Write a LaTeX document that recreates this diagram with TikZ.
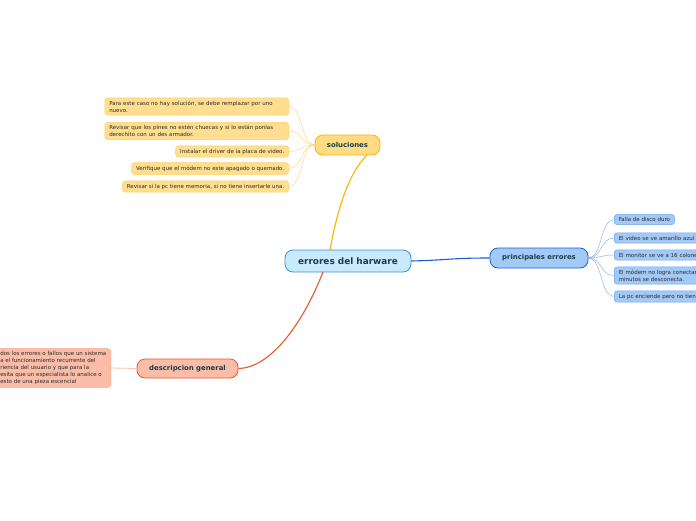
\documentclass[tikz,border=0pt]{standalone}
\usepackage{fontspec}
\setmainfont{DejaVu Sans}
\definecolor{cfill}{HTML}{C9EAFC}
\definecolor{cdraw}{HTML}{3D8FD8}
\definecolor{ttext}{HTML}{163F4A}
\definecolor{sfill}{HTML}{FFDC84}
\definecolor{sdraw}{HTML}{F7B500}
\definecolor{slfill}{HTML}{FFDF8F}
\definecolor{sldraw}{HTML}{FDD06A}
\definecolor{sline}{HTML}{FDD98A}
\definecolor{bfill}{HTML}{A3C9F7}
\definecolor{bdraw}{HTML}{1D5FD1}
\definecolor{bldraw}{HTML}{6EA5EF}
\definecolor{bline}{HTML}{8BB8F0}
\definecolor{dfill}{HTML}{FBBDA8}
\definecolor{ddraw}{HTML}{F0552A}
\definecolor{dldraw}{HTML}{F7A487}
\definecolor{dline}{HTML}{FBC6B4}
\definecolor{ltext}{HTML}{2A2A2A}
\begin{document}
\begin{tikzpicture}[x=1pt,y=-1pt,
  central/.style={draw=cdraw,fill=cfill,line width=0.8pt,rounded corners=8pt,font=\fontsize{8.9}{10}\selectfont\bfseries,text=ttext,inner sep=0pt},
  topic/.style={line width=0.8pt,rounded corners=8pt,font=\fontsize{6.9}{8}\selectfont\bfseries,text=ttext,inner sep=0pt},
  leaf/.style={line width=0.5pt,rounded corners=3pt,font=\fontsize{5.5}{6.8}\selectfont,text=ltext,align=left,inner xsep=4.5pt,inner ysep=3pt},
  sleaf/.style={leaf,fill=slfill,draw=sldraw},
  bleaf/.style={leaf,fill=bfill,draw=bldraw},
  dleaf/.style={leaf,fill=dfill,draw=dldraw}]
\useasboundingbox (0,0) rectangle (696,520);
\clip (0,0) rectangle (696,520);
\fill[white] (0,0) rectangle (696,520);

\coordinate (cN) at (330,250);
\coordinate (cS) at (323,272);
\coordinate (sB) at (367,155);

% nodes
\node[central,minimum width=126pt,minimum height=22pt] (c) at (348,261) {errores del harware};
\node[topic,draw=sdraw,fill=sfill,minimum width=65pt,minimum height=20pt] (s) at (347.5,145) {soluciones};
\node[topic,draw=bdraw,fill=bfill,minimum width=98pt,minimum height=20pt] (p) at (539,258) {principales errores};
\node[topic,draw=ddraw,fill=dfill,minimum width=101pt,minimum height=19pt] (d) at (187.5,368.5) {descripcion general};

% soluciones leaves
\node[sleaf,anchor=east,text width=175pt] (s1) at (289,106.5) {Para este caso no hay solución, se debe remplazar por uno\\nuevo.};
\node[sleaf,anchor=east,text width=175pt] (s2) at (289,131) {Revisar que los pines no estén chuecas y si lo están ponlas\\derechito con un des armador.};
\node[sleaf,anchor=east] (s3) at (289,151.5) {Instalar el driver de la placa de video.};
\node[sleaf,anchor=east] (s4) at (289,168.5) {Verifique que el módem no este apagado o quemado.};
\node[sleaf,anchor=east] (s5) at (289,186.5) {Revisar si la pc tiene memoria, si no tiene insertarle una.};

% principales leaves
\node[bleaf,anchor=west] (p1) at (614,219.5) {Falla de disco duro};
\node[bleaf,anchor=west,text width=111pt] (p2) at (614,238) {El video se ve amarillo azul};
\node[bleaf,anchor=west,text width=111pt] (p3) at (614,255) {El monitor se ve a 16 colores};
\node[bleaf,anchor=west,text width=111pt] (p4) at (614,275.5) {El módem no logra conectar\\minutos se desconecta.};
\node[bleaf,anchor=west,text width=111pt] (p5) at (614,296.5) {La pc enciende pero no tiene};

% descripcion leaf
\node[dleaf,anchor=east,minimum height=38pt] (d1) at (111,368) {dos los errores o fallos que un sistema\\a el funcionamiento recurrente del\\riencia del usuario y que para la\\esita que un especialista lo analice o\\esto de una pieza escencial};

% connectors
\draw[sdraw,line width=1.1pt] (cN) .. controls (338,205) and (350,172) .. (sB);
\draw[bdraw,line width=1.1pt] (c.east) .. controls (450,260) and (450,258) .. (p.west);
\draw[ddraw,line width=1.1pt] (cS) .. controls (300,330) and (268,368) .. (d.east);

\foreach \l in {s1,s2,s3,s4,s5}
  \draw[sline,line width=0.5pt] (s.west) .. controls +(-14,0) and +(14,0) .. (\l.east);
\foreach \l in {p1,p2,p3,p4,p5}
  \draw[bline,line width=0.5pt] (p.east) .. controls +(14,0) and +(-14,0) .. (\l.west);
\draw[dline,line width=0.8pt] (d.west) -- (d1.east);
\end{tikzpicture}
\end{document}
